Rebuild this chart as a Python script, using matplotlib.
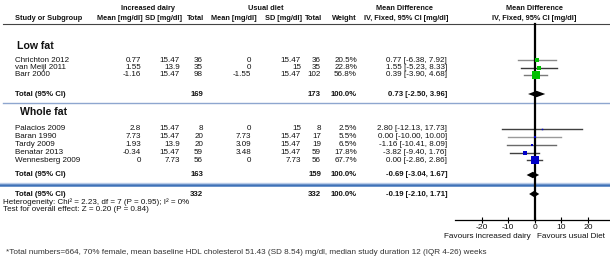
import matplotlib
matplotlib.use("Agg")
import matplotlib.pyplot as plt
import numpy as np

# ---------------- data ----------------
low_studies = ["Chrichton 2012", "van Meijl 2011", "Barr 2000"]
low_inc_mean = ["0.77", "1.55", "-1.16"]
low_inc_sd = ["15.47", "13.9", "15.47"]
low_inc_n = [36, 35, 98]
low_usu_mean = ["0", "0", "-1.55"]
low_usu_sd = ["15.47", "15", "15.47"]
low_usu_n = [36, 35, 102]
low_weight = [20.5, 22.8, 56.8]
low_md = [0.77, 1.55, 0.39]
low_lo = [-6.38, -5.23, -3.90]
low_hi = [7.92, 8.33, 4.68]
low_total = (0.73, -2.50, 3.96)
low_total_n = (169, 173)

whole_studies = ["Palacios 2009", "Baran 1990", "Tardy 2009", "Benatar 2013", "Wennesberg 2009"]
whole_inc_mean = ["2.8", "7.73", "1.93", "-0.34", "0"]
whole_inc_sd = ["15.47", "15.47", "13.9", "15.47", "7.73"]
whole_inc_n = [8, 20, 20, 59, 56]
whole_usu_mean = ["0", "7.73", "3.09", "3.48", "0"]
whole_usu_sd = ["15", "15.47", "15.47", "15.47", "7.73"]
whole_usu_n = [8, 17, 19, 59, 56]
whole_weight = [2.5, 5.5, 6.5, 17.8, 67.7]
whole_md = [2.80, 0.00, -1.16, -3.82, 0.00]
whole_lo = [-12.13, -10.00, -10.41, -9.40, -2.86]
whole_hi = [17.73, 10.00, 8.09, 1.76, 2.86]
whole_total = (-0.69, -3.04, 1.67)
whole_total_n = (163, 159)

overall_total = (-0.19, -2.10, 1.71)
overall_n = (332, 332)

x_ticks = [-20, -10, 0, 10, 20]

# ---------------- layout ----------------
W, H = 610, 267
fig = plt.figure(figsize=(W / 100, H / 100), dpi=100)
ax = fig.add_axes([0, 0, 1, 1])
ax.set_xlim(0, W)
ax.set_ylim(H, 0)
ax.axis("off")

FONT = "Liberation Sans"
FS = 5.8
FSB = 5.3
TXT = "#111111"

def t(x, y, s, ha="left", bold=False, size=None, color=TXT):
    if size is None:
        size = FSB if bold else FS
    ax.text(x, y, s, ha=ha, va="center", fontsize=size, family=FONT,
            fontweight="bold" if bold else "normal", color=color)

# column right-edges
c_im, c_isd, c_in = 141, 180, 203
c_um, c_usd, c_un = 251, 301, 321
c_w, c_ci = 357, 447

y_h1, y_h2 = 8, 18
t(148, y_h1, "Increased dairy", ha="center", bold=True)
t(266, y_h1, "Usual diet", ha="center", bold=True)
t(405, y_h1, "Mean Difference", ha="center", bold=True)
t(534, y_h1, "Mean Difference", ha="center", bold=True)
t(15, y_h2, "Study or Subgroup", bold=True)
t(c_im + 2, y_h2, "Mean [mg/dl]", ha="right", bold=True)
t(c_isd + 2, y_h2, "SD [mg/dl]", ha="right", bold=True)
t(c_in + 1, y_h2, "Total", ha="right", bold=True)
t(c_um + 6, y_h2, "Mean [mg/dl]", ha="right", bold=True)
t(c_usd + 1, y_h2, "SD [mg/dl]", ha="right", bold=True)
t(c_un + 1, y_h2, "Total", ha="right", bold=True)
t(c_w, y_h2, "Weight", ha="right", bold=True)
t(406, y_h2, "IV, Fixed, 95% CI [mg/dl]", ha="center", bold=True)
t(534, y_h2, "IV, Fixed, 95% CI [mg/dl]", ha="center", bold=True)
ax.plot([3, W], [24, 24], color="#444444", lw=0.8)

# forest axes
px0 = 534.7
ppu = 2.66
fx0, fx1 = 450, W
fa = fig.add_axes([fx0 / W, 0, (fx1 - fx0) / W, 1])
fa.set_xlim((fx0 - px0) / ppu, (fx1 - px0) / ppu)
fa.set_ylim(H, 0)
fa.patch.set_alpha(0)
for s in ["top", "left", "right"]:
    fa.spines[s].set_visible(False)
fa.set_yticks([])
y_axis = 220
fa.spines["bottom"].set_position(("data", y_axis))
fa.spines["bottom"].set_bounds(-30, 28)
fa.spines["bottom"].set_linewidth(0.9)
fa.set_xticks(x_ticks)
fa.set_xticklabels([str(v) for v in x_ticks], family=FONT, fontsize=FS + 0.3, color=TXT)
fa.tick_params(axis="x", direction="inout", length=5, width=0.8, pad=0.5)
fa.plot([0, 0], [24, y_axis], color="black", lw=1.6, zorder=3)

def row(y, name, im, isd, inn, um, usd, un, w, md, lo, hi, col, lcol):
    t(15, y, name)
    t(c_im, y, im, ha="right")
    t(c_isd, y, isd, ha="right")
    t(c_in, y, str(inn), ha="right")
    t(c_um, y, um, ha="right")
    t(c_usd, y, usd, ha="right")
    t(c_un, y, str(un), ha="right")
    t(c_w, y, f"{w:.1f}%", ha="right")
    t(c_ci, y, f"{md:.2f} [{lo:.2f}, {hi:.2f}]", ha="right")
    fa.plot([lo, hi], [y, y], color=lcol, lw=1.0, zorder=2)
    side = 0.95 * np.sqrt(w)
    fa.plot([md], [y], marker="s", markersize=side * 0.72, color=col,
            markeredgewidth=0, zorder=4)

def total(y, n1, n2, est):
    md, lo, hi = est
    t(15, y, "Total (95% CI)", bold=True, size=FS - 0.2)
    t(c_in, y, str(n1), ha="right", bold=True, size=FS - 0.2)
    t(c_un, y, str(n2), ha="right", bold=True, size=FS - 0.2)
    t(c_w, y, "100.0%", ha="right", bold=True, size=FS - 0.2)
    t(c_ci, y, f"{md:.2f} [{lo:.2f}, {hi:.2f}]", ha="right", bold=True, size=FS - 0.2)
    h = 3.2
    fa.fill([lo, md, hi, md], [y, y - h, y, y + h], color="black", lw=0, zorder=5)

# Low fat
t(17, 46, "Low fat", bold=True, size=7.6)
low_rows = [60, 67.5, 75]
low_lc = ["#8a8a8a", "#3a3a3a", "#7a7a7a"]
for i, y in enumerate(low_rows):
    row(y, low_studies[i], low_inc_mean[i], low_inc_sd[i], low_inc_n[i],
        low_usu_mean[i], low_usu_sd[i], low_usu_n[i], low_weight[i],
        low_md[i], low_lo[i], low_hi[i], "#00c000", low_lc[i])
total(94, low_total_n[0], low_total_n[1], low_total)
ax.plot([3, W], [103, 103], color="#8ea6cf", lw=1.0)

# Whole fat
t(20, 112, "Whole fat", bold=True, size=7.6)
whole_rows = [129, 137, 145, 152.5, 160]
whole_lc = ["#404040", "#9a9a9a", "#6a6a6a", "#404040", "#404040"]
for i, y in enumerate(whole_rows):
    row(y, whole_studies[i], whole_inc_mean[i], whole_inc_sd[i], whole_inc_n[i],
        whole_usu_mean[i], whole_usu_sd[i], whole_usu_n[i], whole_weight[i],
        whole_md[i], whole_lo[i], whole_hi[i], "#0000c8", whole_lc[i])
total(175, whole_total_n[0], whole_total_n[1], whole_total)
ax.plot([0, W], [183.3, 183.3], color="#b8cbe8", lw=1.0)
ax.plot([0, W], [185, 185], color="#3f72b8", lw=1.8)

# Overall
total(194, overall_n[0], overall_n[1], overall_total)
t(3, 202, "Heterogeneity: Chi\u00b2 = 2.23, df = 7 (P = 0.95); I\u00b2 = 0%")
t(3, 209.5, "Test for overall effect: Z = 0.20 (P = 0.84)")

t(531, 237, "Favours increased dairy", ha="right", size=FS + 0.1)
t(537, 237, "Favours usual Diet", ha="left", size=FS + 0.1)

ax.text(6, 253, "*Total numbers=664, 70% female, mean baseline HDL cholesterol 51.43 (SD 8.54) mg/dl, "
        "median study duration 12 (IQR 4-26) weeks",
        ha="left", va="center", fontsize=5.9, family=FONT, color="#333333")

fig.savefig("out.png", dpi=100)
